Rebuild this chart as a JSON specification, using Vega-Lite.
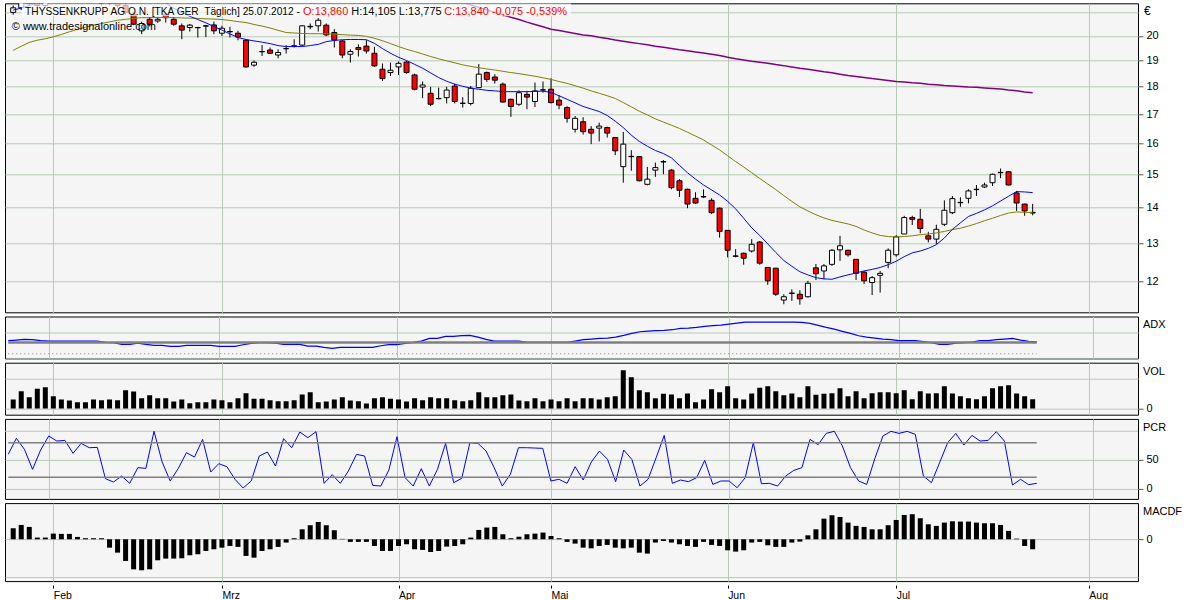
{
  "$schema": "https://vega.github.io/schema/vega-lite/v6.json",
  "background": "white",
  "padding": {"left": 2, "top": 2.3, "right": 0, "bottom": 0},
  "spacing": 4.2,
  "bounds": "flush",
  "datasets": {
    "d": [
      {"i":-5,"o":21.0,"h":21.3,"l":20.9,"c":21.2,"m1":21.10,"m2":19.41,"adx":23.4,"vol":3.02,"pcr":59.8,"macd":0.117},
      {"i":-4,"o":21.2,"h":21.6,"l":21.1,"c":21.5,"m1":21.19,"m2":19.57,"adx":24.6,"vol":5.81,"pcr":87.7,"macd":0.152},
      {"i":-3,"o":21.6,"h":21.7,"l":21.3,"c":21.4,"m1":21.30,"m2":19.73,"adx":25.8,"vol":3.79,"pcr":68.5,"macd":0.131},
      {"i":-2,"o":21.5,"h":21.7,"l":21.2,"c":21.3,"m1":21.43,"m2":19.82,"adx":25.2,"vol":6.61,"pcr":33.7,"macd":0.018},
      {"i":-1,"o":21.3,"h":21.8,"l":21.2,"c":21.6,"m1":21.55,"m2":19.88,"adx":23.4,"vol":7.15,"pcr":67.4,"macd":0.018},
      {"i":0,"o":21.6,"h":22.0,"l":21.5,"c":21.8,"m1":21.63,"m2":19.96,"adx":22.8,"vol":4.13,"pcr":91.8,"macd":0.060},
      {"i":1,"o":21.8,"h":21.9,"l":21.5,"c":21.6,"m1":21.68,"m2":20.06,"adx":22.8,"vol":3.02,"pcr":83.0,"macd":0.057},
      {"i":2,"o":21.6,"h":22.0,"l":21.5,"c":21.9,"m1":21.72,"m2":20.17,"adx":22.8,"vol":2.68,"pcr":84.2,"macd":0.057},
      {"i":3,"o":21.9,"h":22.1,"l":21.6,"c":21.7,"m1":21.77,"m2":20.27,"adx":22.8,"vol":2.11,"pcr":61.6,"macd":0.025},
      {"i":4,"o":21.7,"h":22.0,"l":21.6,"c":21.9,"m1":21.82,"m2":20.36,"adx":22.8,"vol":2.11,"pcr":79.0,"macd":0.011},
      {"i":5,"o":21.9,"h":22.0,"l":21.5,"c":21.6,"m1":21.87,"m2":20.45,"adx":22.8,"vol":3.02,"pcr":71.4,"macd":0.011},
      {"i":6,"o":21.6,"h":21.7,"l":21.3,"c":21.4,"m1":21.92,"m2":20.52,"adx":22.8,"vol":2.79,"pcr":72.0,"macd":0.011},
      {"i":7,"o":21.4,"h":21.7,"l":21.3,"c":21.6,"m1":21.94,"m2":20.59,"adx":20.4,"vol":3.02,"pcr":17.4,"macd":-0.089},
      {"i":8,"o":21.6,"h":21.7,"l":21.2,"c":21.3,"m1":21.89,"m2":20.66,"adx":19.8,"vol":2.79,"pcr":11.6,"macd":-0.142},
      {"i":9,"o":21.3,"h":21.4,"l":20.9,"c":21.0,"m1":21.84,"m2":20.70,"adx":16.8,"vol":6.14,"pcr":22.1,"macd":-0.230},
      {"i":10,"o":20.92,"h":21.0,"l":20.45,"c":20.49,"m1":21.79,"m2":20.74,"adx":16.8,"vol":5.70,"pcr":9.3,"macd":-0.319},
      {"i":11,"o":20.21,"h":20.6,"l":20.07,"c":20.52,"m1":21.74,"m2":20.77,"adx":19.2,"vol":3.46,"pcr":36.6,"macd":-0.329},
      {"i":12,"o":20.70,"h":20.8,"l":20.4,"c":20.49,"m1":21.68,"m2":20.77,"adx":16.8,"vol":4.46,"pcr":35.4,"macd":-0.319},
      {"i":13,"o":20.63,"h":20.8,"l":20.55,"c":20.70,"m1":21.62,"m2":20.78,"adx":15.0,"vol":3.46,"pcr":100,"macd":-0.223},
      {"i":14,"o":20.92,"h":21.0,"l":20.56,"c":20.77,"m1":21.42,"m2":20.78,"adx":15.0,"vol":3.46,"pcr":46.5,"macd":-0.205},
      {"i":15,"o":20.70,"h":20.8,"l":20.42,"c":20.49,"m1":21.18,"m2":20.77,"adx":13.2,"vol":2.35,"pcr":13.4,"macd":-0.205},
      {"i":16,"o":20.42,"h":20.52,"l":19.86,"c":20.24,"m1":20.99,"m2":20.76,"adx":13.2,"vol":3.02,"pcr":35.4,"macd":-0.202},
      {"i":17,"o":20.35,"h":20.5,"l":20.18,"c":20.45,"m1":20.83,"m2":20.75,"adx":15.0,"vol":1.78,"pcr":62.7,"macd":-0.170},
      {"i":18,"o":20.35,"h":20.38,"l":19.93,"c":20.34,"m1":20.69,"m2":20.74,"adx":15.0,"vol":2.11,"pcr":55.2,"macd":-0.159},
      {"i":19,"o":20.42,"h":20.46,"l":19.95,"c":20.41,"m1":20.55,"m2":20.72,"adx":15.0,"vol":2.11,"pcr":85.9,"macd":-0.124},
      {"i":20,"o":20.46,"h":20.60,"l":20.07,"c":20.21,"m1":20.39,"m2":20.71,"adx":15.0,"vol":3.02,"pcr":29.0,"macd":-0.106},
      {"i":21,"o":20.11,"h":20.42,"l":20.00,"c":20.32,"m1":20.24,"m2":20.69,"adx":13.2,"vol":2.79,"pcr":43.6,"macd":-0.089},
      {"i":22,"o":20.18,"h":20.38,"l":19.93,"c":20.17,"m1":20.08,"m2":20.65,"adx":13.2,"vol":2.11,"pcr":38.3,"macd":-0.071},
      {"i":23,"o":20.11,"h":20.21,"l":19.82,"c":19.95,"m1":19.93,"m2":20.60,"adx":13.2,"vol":3.46,"pcr":16.3,"macd":-0.081},
      {"i":24,"o":19.82,"h":19.85,"l":18.72,"c":18.75,"m1":19.85,"m2":20.56,"adx":16.2,"vol":5.13,"pcr":1.2,"macd":-0.177},
      {"i":25,"o":18.82,"h":19.01,"l":18.75,"c":18.93,"m1":19.79,"m2":20.48,"adx":18.6,"vol":3.26,"pcr":13.4,"macd":-0.195},
      {"i":26,"o":19.36,"h":19.62,"l":19.18,"c":19.35,"m1":19.74,"m2":20.41,"adx":19.8,"vol":3.26,"pcr":56.9,"macd":-0.124},
      {"i":27,"o":19.42,"h":19.52,"l":19.26,"c":19.29,"m1":19.68,"m2":20.33,"adx":19.8,"vol":2.79,"pcr":63.9,"macd":-0.106},
      {"i":28,"o":19.22,"h":19.45,"l":19.09,"c":19.32,"m1":19.60,"m2":20.23,"adx":19.2,"vol":2.45,"pcr":39.5,"macd":-0.081},
      {"i":29,"o":19.47,"h":19.62,"l":19.28,"c":19.48,"m1":19.56,"m2":20.14,"adx":16.8,"vol":2.45,"pcr":87.1,"macd":-0.035},
      {"i":30,"o":19.58,"h":19.86,"l":19.52,"c":19.59,"m1":19.56,"m2":20.12,"adx":16.8,"vol":2.79,"pcr":71.4,"macd":0.011},
      {"i":31,"o":19.62,"h":20.45,"l":19.58,"c":20.42,"m1":19.56,"m2":20.10,"adx":16.8,"vol":4.70,"pcr":98.7,"macd":0.106},
      {"i":32,"o":20.38,"h":20.52,"l":20.28,"c":20.40,"m1":19.60,"m2":20.09,"adx":13.8,"vol":5.47,"pcr":88.9,"macd":0.149},
      {"i":33,"o":20.42,"h":20.75,"l":20.18,"c":20.66,"m1":19.65,"m2":20.09,"adx":13.8,"vol":2.11,"pcr":99.3,"macd":0.184},
      {"i":34,"o":20.45,"h":20.52,"l":19.99,"c":20.04,"m1":19.76,"m2":20.08,"adx":11.4,"vol":2.35,"pcr":9.3,"macd":0.149},
      {"i":35,"o":20.14,"h":20.28,"l":19.52,"c":19.83,"m1":19.81,"m2":20.07,"adx":9.6,"vol":3.02,"pcr":24.4,"macd":0.096},
      {"i":36,"o":19.79,"h":19.82,"l":19.09,"c":19.22,"m1":19.84,"m2":20.05,"adx":11.4,"vol":3.79,"pcr":9.3,"macd":0.004},
      {"i":37,"o":19.25,"h":19.45,"l":18.92,"c":19.36,"m1":19.85,"m2":20.03,"adx":11.4,"vol":2.68,"pcr":30.8,"macd":-0.028},
      {"i":38,"o":19.52,"h":19.65,"l":19.16,"c":19.44,"m1":19.85,"m2":20.02,"adx":11.4,"vol":2.45,"pcr":59.8,"macd":-0.028},
      {"i":39,"o":19.58,"h":19.82,"l":19.28,"c":19.38,"m1":19.84,"m2":19.98,"adx":11.4,"vol":1.68,"pcr":56.9,"macd":-0.028},
      {"i":40,"o":19.29,"h":19.55,"l":18.75,"c":18.79,"m1":19.69,"m2":19.90,"adx":11.4,"vol":3.46,"pcr":5.8,"macd":-0.071},
      {"i":41,"o":18.66,"h":18.88,"l":18.21,"c":18.30,"m1":19.48,"m2":19.80,"adx":14.4,"vol":3.79,"pcr":4.6,"macd":-0.124},
      {"i":42,"o":18.53,"h":18.92,"l":18.40,"c":18.62,"m1":19.29,"m2":19.68,"adx":16.2,"vol":3.26,"pcr":32.5,"macd":-0.124},
      {"i":43,"o":18.75,"h":18.96,"l":18.44,"c":18.89,"m1":19.13,"m2":19.56,"adx":16.2,"vol":3.02,"pcr":90.6,"macd":-0.071},
      {"i":44,"o":18.94,"h":18.99,"l":18.49,"c":18.53,"m1":19.00,"m2":19.45,"adx":18.6,"vol":2.35,"pcr":19.2,"macd":-0.053},
      {"i":45,"o":18.44,"h":18.49,"l":17.86,"c":17.90,"m1":18.85,"m2":19.36,"adx":20.4,"vol":3.46,"pcr":4.6,"macd":-0.106},
      {"i":46,"o":17.98,"h":18.19,"l":17.57,"c":18.06,"m1":18.70,"m2":19.26,"adx":22.8,"vol":2.79,"pcr":34.8,"macd":-0.113},
      {"i":47,"o":17.75,"h":17.99,"l":17.28,"c":17.35,"m1":18.52,"m2":19.16,"adx":27.6,"vol":3.79,"pcr":4.6,"macd":-0.135},
      {"i":48,"o":17.55,"h":17.96,"l":17.53,"c":17.56,"m1":18.34,"m2":19.07,"adx":27.6,"vol":3.46,"pcr":33.7,"macd":-0.124},
      {"i":49,"o":17.59,"h":17.99,"l":17.38,"c":17.87,"m1":18.20,"m2":18.99,"adx":31.2,"vol":3.46,"pcr":79.0,"macd":-0.078},
      {"i":50,"o":18.02,"h":18.11,"l":17.38,"c":17.45,"m1":18.09,"m2":18.91,"m3":21.55,"adx":31.2,"vol":2.79,"pcr":10.5,"macd":-0.071},
      {"i":51,"o":17.38,"h":17.61,"l":17.23,"c":17.39,"m1":18.01,"m2":18.83,"m3":21.44,"adx":32.4,"vol":2.45,"pcr":18.0,"macd":-0.053},
      {"i":52,"o":17.38,"h":18.02,"l":17.31,"c":17.94,"m1":17.94,"m2":18.77,"m3":21.33,"adx":33.0,"vol":2.79,"pcr":80.1,"macd":0.018},
      {"i":53,"o":17.96,"h":18.86,"l":17.94,"c":18.47,"m1":17.90,"m2":18.72,"m3":21.22,"adx":30.0,"vol":5.47,"pcr":79.0,"macd":0.099},
      {"i":54,"o":18.53,"h":18.57,"l":18.18,"c":18.27,"m1":17.86,"m2":18.67,"m3":21.11,"adx":25.8,"vol":3.79,"pcr":65.6,"macd":0.124},
      {"i":55,"o":18.36,"h":18.47,"l":18.11,"c":18.24,"m1":17.84,"m2":18.63,"m3":21.00,"adx":22.8,"vol":3.79,"pcr":36.6,"macd":0.131},
      {"i":56,"o":18.09,"h":18.15,"l":17.41,"c":17.43,"m1":17.81,"m2":18.58,"m3":20.89,"adx":22.8,"vol":4.46,"pcr":4.6,"macd":0.053},
      {"i":57,"o":17.53,"h":17.55,"l":16.90,"c":17.27,"m1":17.81,"m2":18.53,"m3":20.79,"adx":22.8,"vol":4.70,"pcr":25.0,"macd":0.011},
      {"i":58,"o":17.35,"h":17.86,"l":17.29,"c":17.77,"m1":17.81,"m2":18.49,"m3":20.69,"adx":22.8,"vol":2.68,"pcr":71.4,"macd":0.028},
      {"i":59,"o":17.71,"h":17.84,"l":17.17,"c":17.61,"m1":17.81,"m2":18.44,"m3":20.58,"adx":21.0,"vol":2.45,"pcr":71.4,"macd":0.053},
      {"i":60,"o":17.45,"h":18.15,"l":17.25,"c":17.84,"m1":17.82,"m2":18.39,"m3":20.48,"adx":20.4,"vol":3.46,"pcr":70.8,"macd":0.060},
      {"i":61,"o":17.87,"h":18.19,"l":17.77,"c":17.88,"m1":17.83,"m2":18.33,"m3":20.38,"adx":20.4,"vol":2.45,"pcr":70.3,"macd":0.071},
      {"i":62,"o":17.90,"h":18.31,"l":17.38,"c":17.41,"m1":17.78,"m2":18.27,"m3":20.28,"adx":20.4,"vol":3.02,"pcr":13.4,"macd":0.035},
      {"i":63,"o":17.50,"h":17.68,"l":17.17,"c":17.32,"m1":17.66,"m2":18.19,"m3":20.22,"adx":20.4,"vol":2.45,"pcr":16.3,"macd":0.011},
      {"i":64,"o":17.23,"h":17.28,"l":16.70,"c":16.85,"m1":17.53,"m2":18.12,"m3":20.16,"adx":20.4,"vol":3.46,"pcr":9.3,"macd":-0.028},
      {"i":65,"o":16.47,"h":16.93,"l":16.36,"c":16.85,"m1":17.40,"m2":18.03,"m3":20.10,"adx":22.8,"vol":2.45,"pcr":38.3,"macd":-0.046},
      {"i":66,"o":16.73,"h":16.89,"l":16.29,"c":16.39,"m1":17.27,"m2":17.94,"m3":20.04,"adx":25.2,"vol":3.46,"pcr":15.1,"macd":-0.089},
      {"i":67,"o":16.47,"h":16.58,"l":15.97,"c":16.34,"m1":17.18,"m2":17.84,"m3":20.00,"adx":26.4,"vol":3.46,"pcr":46.5,"macd":-0.096},
      {"i":68,"o":16.51,"h":16.70,"l":16.06,"c":16.58,"m1":17.09,"m2":17.75,"m3":19.94,"adx":27.6,"vol":3.02,"pcr":65.6,"macd":-0.071},
      {"i":69,"o":16.53,"h":16.56,"l":16.19,"c":16.34,"m1":16.95,"m2":17.66,"m3":19.89,"adx":28.2,"vol":3.79,"pcr":51.1,"macd":-0.060},
      {"i":70,"o":16.19,"h":16.20,"l":15.61,"c":15.75,"m1":16.75,"m2":17.56,"m3":19.83,"adx":30.0,"vol":4.13,"pcr":12.2,"macd":-0.089},
      {"i":71,"o":15.24,"h":16.38,"l":14.74,"c":15.97,"m1":16.53,"m2":17.41,"m3":19.78,"adx":33.0,"vol":12.85,"pcr":67.4,"macd":-0.096},
      {"i":72,"o":15.57,"h":15.77,"l":15.11,"c":15.56,"m1":16.27,"m2":17.26,"m3":19.73,"adx":36.6,"vol":10.50,"pcr":51.1,"macd":-0.089},
      {"i":73,"o":15.56,"h":15.58,"l":14.78,"c":14.80,"m1":16.06,"m2":17.10,"m3":19.68,"adx":39.6,"vol":6.14,"pcr":4.6,"macd":-0.142},
      {"i":74,"o":14.69,"h":15.23,"l":14.66,"c":14.85,"m1":15.90,"m2":16.97,"m3":19.63,"adx":40.8,"vol":5.47,"pcr":16.3,"macd":-0.152},
      {"i":75,"o":15.13,"h":15.37,"l":14.92,"c":15.21,"m1":15.76,"m2":16.83,"m3":19.57,"adx":41.4,"vol":3.46,"pcr":54.0,"macd":-0.035},
      {"i":76,"o":15.39,"h":15.45,"l":15.00,"c":15.40,"m1":15.66,"m2":16.72,"m3":19.53,"adx":42.0,"vol":4.93,"pcr":92.9,"macd":-0.018},
      {"i":77,"o":15.13,"h":15.16,"l":14.54,"c":14.59,"m1":15.52,"m2":16.61,"m3":19.48,"adx":43.2,"vol":4.70,"pcr":9.3,"macd":-0.035},
      {"i":78,"o":14.80,"h":14.85,"l":14.31,"c":14.51,"m1":15.28,"m2":16.50,"m3":19.43,"adx":45.6,"vol":3.46,"pcr":15.1,"macd":-0.053},
      {"i":79,"o":14.54,"h":14.56,"l":13.98,"c":14.10,"m1":15.05,"m2":16.37,"m3":19.39,"adx":46.2,"vol":5.03,"pcr":12.2,"macd":-0.071},
      {"i":80,"o":14.27,"h":14.45,"l":14.11,"c":14.13,"m1":14.85,"m2":16.24,"m3":19.34,"adx":47.4,"vol":2.11,"pcr":19.2,"macd":-0.081},
      {"i":81,"o":14.32,"h":14.54,"l":14.28,"c":14.31,"m1":14.67,"m2":16.11,"m3":19.30,"adx":49.2,"vol":3.02,"pcr":49.4,"macd":-0.028},
      {"i":82,"o":14.21,"h":14.27,"l":13.81,"c":13.85,"m1":14.52,"m2":15.94,"m3":19.25,"adx":50.4,"vol":6.48,"pcr":7.5,"macd":-0.060},
      {"i":83,"o":13.98,"h":14.00,"l":13.15,"c":13.32,"m1":14.37,"m2":15.78,"m3":19.20,"adx":51.6,"vol":5.47,"pcr":13.4,"macd":-0.071},
      {"i":84,"o":13.35,"h":13.36,"l":12.62,"c":12.81,"m1":14.18,"m2":15.59,"m3":19.13,"adx":53.4,"vol":7.48,"pcr":13.4,"macd":-0.117},
      {"i":85,"o":12.66,"h":12.84,"l":12.62,"c":12.65,"m1":13.96,"m2":15.40,"m3":19.07,"adx":55.2,"vol":3.46,"pcr":1.7,"macd":-0.131},
      {"i":86,"o":12.73,"h":12.75,"l":12.43,"c":12.60,"m1":13.69,"m2":15.23,"m3":19.02,"adx":57.0,"vol":3.02,"pcr":19.2,"macd":-0.117},
      {"i":87,"o":12.79,"h":13.11,"l":12.75,"c":12.97,"m1":13.42,"m2":15.05,"m3":18.97,"adx":57.0,"vol":5.03,"pcr":80.1,"macd":-0.035},
      {"i":88,"o":13.03,"h":13.06,"l":12.43,"c":12.47,"m1":13.21,"m2":14.87,"m3":18.93,"adx":57.0,"vol":6.95,"pcr":8.7,"macd":-0.028},
      {"i":89,"o":12.36,"h":12.37,"l":11.92,"c":12.02,"m1":12.98,"m2":14.70,"m3":18.89,"adx":57.0,"vol":7.48,"pcr":9.3,"macd":-0.064},
      {"i":90,"o":12.34,"h":12.35,"l":11.65,"c":11.69,"m1":12.75,"m2":14.53,"m3":18.84,"adx":57.0,"vol":5.81,"pcr":4.6,"macd":-0.081},
      {"i":91,"o":11.55,"h":11.69,"l":11.45,"c":11.63,"m1":12.54,"m2":14.35,"m3":18.80,"adx":57.0,"vol":4.46,"pcr":22.1,"macd":-0.081},
      {"i":92,"o":11.72,"h":11.81,"l":11.53,"c":11.71,"m1":12.39,"m2":14.18,"m3":18.75,"adx":57.0,"vol":5.03,"pcr":31.9,"macd":-0.035},
      {"i":93,"o":11.69,"h":11.79,"l":11.44,"c":11.58,"m1":12.25,"m2":14.02,"m3":18.70,"adx":56.4,"vol":3.79,"pcr":36.6,"macd":-0.025},
      {"i":94,"o":11.63,"h":12.02,"l":11.61,"c":11.96,"m1":12.17,"m2":13.90,"m3":18.66,"adx":54.6,"vol":7.48,"pcr":85.9,"macd":0.042},
      {"i":95,"o":12.35,"h":12.45,"l":12.04,"c":12.20,"m1":12.10,"m2":13.79,"m3":18.61,"adx":51.0,"vol":4.60,"pcr":76.7,"macd":0.106},
      {"i":96,"o":12.27,"h":12.45,"l":12.06,"c":12.40,"m1":12.07,"m2":13.70,"m3":18.56,"adx":47.4,"vol":4.93,"pcr":96.4,"macd":0.219},
      {"i":97,"o":12.44,"h":12.84,"l":12.40,"c":12.81,"m1":12.06,"m2":13.63,"m3":18.52,"adx":44.4,"vol":5.13,"pcr":100,"macd":0.255},
      {"i":98,"o":12.82,"h":13.20,"l":12.53,"c":12.93,"m1":12.12,"m2":13.58,"m3":18.47,"adx":40.2,"vol":6.81,"pcr":74.3,"macd":0.237},
      {"i":99,"o":12.81,"h":12.82,"l":12.64,"c":12.69,"m1":12.17,"m2":13.53,"m3":18.42,"adx":36.6,"vol":4.13,"pcr":36.6,"macd":0.177},
      {"i":100,"o":12.57,"h":12.58,"l":12.04,"c":12.21,"m1":12.22,"m2":13.46,"m3":18.38,"adx":32.4,"vol":5.81,"pcr":13.4,"macd":0.142},
      {"i":101,"o":12.24,"h":12.27,"l":11.94,"c":12.02,"m1":12.27,"m2":13.36,"m3":18.34,"adx":30.0,"vol":3.46,"pcr":7.5,"macd":0.131},
      {"i":102,"o":11.98,"h":12.14,"l":11.67,"c":12.10,"m1":12.31,"m2":13.28,"m3":18.30,"adx":28.2,"vol":5.13,"pcr":52.3,"macd":0.106},
      {"i":103,"o":12.16,"h":12.27,"l":11.73,"c":12.21,"m1":12.36,"m2":13.21,"m3":18.27,"adx":26.4,"vol":5.47,"pcr":91.8,"macd":0.106},
      {"i":104,"o":12.49,"h":12.86,"l":12.34,"c":12.81,"m1":12.43,"m2":13.18,"m3":18.23,"adx":25.2,"vol":5.47,"pcr":99.9,"macd":0.149},
      {"i":105,"o":12.69,"h":13.22,"l":12.64,"c":13.17,"m1":12.52,"m2":13.17,"m3":18.19,"adx":23.4,"vol":5.13,"pcr":96.4,"macd":0.205},
      {"i":106,"o":13.25,"h":13.76,"l":13.25,"c":13.71,"m1":12.64,"m2":13.18,"m3":18.17,"adx":23.4,"vol":6.14,"pcr":99.9,"macd":0.258},
      {"i":107,"o":13.71,"h":13.76,"l":13.50,"c":13.66,"m1":12.74,"m2":13.20,"m3":18.14,"adx":23.4,"vol":3.12,"pcr":94.7,"macd":0.266},
      {"i":108,"o":13.66,"h":13.96,"l":13.27,"c":13.40,"m1":12.79,"m2":13.23,"m3":18.12,"adx":21.6,"vol":5.81,"pcr":22.1,"macd":0.223},
      {"i":109,"o":13.20,"h":13.31,"l":13.02,"c":13.11,"m1":12.86,"m2":13.25,"m3":18.09,"adx":19.8,"vol":5.03,"pcr":10.5,"macd":0.159},
      {"i":110,"o":13.11,"h":13.51,"l":12.98,"c":13.38,"m1":12.96,"m2":13.28,"m3":18.07,"adx":16.8,"vol":5.13,"pcr":45.3,"macd":0.142},
      {"i":111,"o":13.52,"h":14.21,"l":13.47,"c":13.92,"m1":13.14,"m2":13.32,"m3":18.04,"adx":16.8,"vol":7.48,"pcr":80.1,"macd":0.177},
      {"i":112,"o":13.85,"h":14.34,"l":13.81,"c":14.26,"m1":13.38,"m2":13.37,"m3":18.02,"adx":19.2,"vol":5.03,"pcr":96.4,"macd":0.191},
      {"i":113,"o":14.14,"h":14.30,"l":14.02,"c":14.15,"m1":13.56,"m2":13.41,"m3":18.00,"adx":19.8,"vol":4.13,"pcr":76.1,"macd":0.188},
      {"i":114,"o":14.27,"h":14.54,"l":14.12,"c":14.49,"m1":13.74,"m2":13.47,"m3":17.98,"adx":21.0,"vol":3.46,"pcr":92.9,"macd":0.188},
      {"i":115,"o":14.53,"h":14.67,"l":14.34,"c":14.54,"m1":13.83,"m2":13.54,"m3":17.97,"adx":23.4,"vol":3.12,"pcr":83.0,"macd":0.177},
      {"i":116,"o":14.61,"h":14.74,"l":14.58,"c":14.67,"m1":13.93,"m2":13.62,"m3":17.95,"adx":23.4,"vol":4.13,"pcr":84.2,"macd":0.170},
      {"i":117,"o":14.74,"h":15.02,"l":14.64,"c":15.00,"m1":14.05,"m2":13.69,"m3":17.93,"adx":25.2,"vol":6.81,"pcr":99.3,"macd":0.170},
      {"i":118,"o":15.05,"h":15.18,"l":14.88,"c":15.06,"m1":14.19,"m2":13.77,"m3":17.91,"adx":26.4,"vol":7.48,"pcr":83.0,"macd":0.152},
      {"i":119,"o":15.08,"h":15.10,"l":14.66,"c":14.67,"m1":14.33,"m2":13.84,"m3":17.87,"adx":27.6,"vol":7.82,"pcr":6.4,"macd":0.089},
      {"i":120,"o":14.43,"h":14.49,"l":13.90,"c":14.13,"m1":14.47,"m2":13.87,"m3":17.84,"adx":24.6,"vol":5.03,"pcr":16.3,"macd":0.007},
      {"i":121,"o":14.10,"h":14.11,"l":13.76,"c":13.90,"m1":14.46,"m2":13.86,"m3":17.80,"adx":22.2,"vol":4.13,"pcr":7.0,"macd":-0.071},
      {"i":122,"o":13.86,"h":14.105,"l":13.775,"c":13.84,"m1":14.44,"m2":13.85,"m3":17.77,"adx":21.0,"vol":3.12,"pcr":9.3,"macd":-0.106}
    ]
  },
  "data": {"name": "d"},
  "config": {
    "view": {"fill": "#f5f5f5", "stroke": "#000000", "strokeWidth": 1},
    "font": "Liberation Sans",
    "axis": {
      "labelFont": "Liberation Sans", "labelFontSize": 11, "labelColor": "#000000",
      "labelFlush": false, "labelOverlap": false,
      "gridColor": "#b6cab6", "gridWidth": 1, "gridOpacity": 1,
      "tickColor": "#555555", "tickSize": 5, "labelPadding": 3, "domain": false,
      "titleFont": "Liberation Sans", "titleFontSize": 11, "titleFontWeight": "normal", "titleColor": "#000000"
    }
  },
  "vconcat": [
    {
      "width": 1133,
      "height": 309,
      "layer": [
        {
          "mark": {"type": "rule", "color": "#000000", "strokeWidth": 1, "clip": true},
          "encoding": {
            "x": {"field": "i", "type": "quantitative", "scale": {"domain": [-5.4, 134.5], "nice": false, "zero": false},
                  "axis": {"values": [0, 21, 43, 62, 84, 105, 129], "labels": false, "ticks": false, "title": null, "grid": true}},
            "y": {"field": "l", "type": "quantitative",
                  "scale": {"type": "log", "domain": [11.26, 21.4], "nice": false},
                  "axis": {"orient": "right", "values": [12, 13, 14, 15, 16, 17, 18, 19, 20, 21],
                           "labelExpr": "datum.value == 21 ? '' : datum.label", "labelOverlap": false,
                           "tickOpacity": {"condition": {"test": "datum.value == 21", "value": 0}, "value": 1},
                           "grid": true, "title": "€", "titleAngle": 0, "titleAlign": "left", "titleBaseline": "middle",
                           "titleX": 5.5, "titleY": 7, "titleFontSize": 12}},
            "y2": {"field": "h"}
          }
        },
        {
          "mark": {"type": "bar", "width": 5, "stroke": "#000000", "strokeWidth": 1, "clip": true},
          "encoding": {
            "x": {"field": "i", "type": "quantitative"},
            "y": {"field": "o", "type": "quantitative"},
            "y2": {"field": "c"},
            "fill": {"condition": {"test": "datum.c < datum.o", "value": "#ff0000"}, "value": "#ffffff"}
          }
        },
        {
          "mark": {"type": "line", "color": "#800080", "strokeWidth": 1.5, "clip": true},
          "encoding": {"x": {"field": "i", "type": "quantitative"}, "y": {"field": "m3", "type": "quantitative"}}
        },
        {
          "mark": {"type": "line", "color": "#808000", "strokeWidth": 1, "clip": true},
          "encoding": {"x": {"field": "i", "type": "quantitative"}, "y": {"field": "m2", "type": "quantitative"}}
        },
        {
          "mark": {"type": "line", "color": "#0000ff", "strokeWidth": 1, "clip": true},
          "encoding": {"x": {"field": "i", "type": "quantitative"}, "y": {"field": "m1", "type": "quantitative"}}
        },
        {
          "data": {"values": [{"k": 1}]},
          "mark": {"type": "rect", "fill": "#ffffff", "opacity": 0.7, "clip": true},
          "encoding": {"x": {"datum": -3.92}, "x2": {"datum": 64.5}, "y": {"datum": 21.4}, "y2": {"datum": 20.83}}
        },
        {
          "data": {"values": [{"k": 1}]},
          "mark": {"type": "text", "text": "THYSSENKRUPP AG O.N. [TKA GER\u00a0 Täglich] 25.07.2012 -", "align": "left", "baseline": "alphabetic", "font": "Liberation Sans", "fontSize": 10.2, "color": "#000000"},
          "encoding": {"x": {"datum": -3.52}, "y": {"datum": 20.89}}
        },
        {
          "data": {"values": [{"k": 1}]},
          "mark": {"type": "text", "text": "O:13,860", "align": "left", "baseline": "alphabetic", "font": "Liberation Sans", "fontSize": 11, "color": "#ff0000"},
          "encoding": {"x": {"datum": 31.11}, "y": {"datum": 20.89}}
        },
        {
          "data": {"values": [{"k": 1}]},
          "mark": {"type": "text", "text": "H:14,105 L:13,775", "align": "left", "baseline": "alphabetic", "font": "Liberation Sans", "fontSize": 11, "color": "#000000"},
          "encoding": {"x": {"datum": 37.11}, "y": {"datum": 20.89}}
        },
        {
          "data": {"values": [{"k": 1}]},
          "mark": {"type": "text", "text": "C:13,840 -0,075 -0,539%", "align": "left", "baseline": "alphabetic", "font": "Liberation Sans", "fontSize": 11, "color": "#ff0000"},
          "encoding": {"x": {"datum": 48.7}, "y": {"datum": 20.89}}
        },
        {
          "data": {"values": [{"k": 1}]},
          "mark": {"type": "text", "text": "© www.tradesignalonline.com", "align": "left", "baseline": "alphabetic", "font": "Liberation Sans", "fontSize": 11, "color": "#000000"},
          "encoding": {"x": {"datum": -5.18}, "y": {"datum": 20.23}}
        }
      ]
    },
    {
      "width": 1133,
      "height": 42,
      "encoding": {
        "x": {"field": "i", "type": "quantitative", "scale": {"domain": [-5.4, 134.5], "nice": false, "zero": false},
              "axis": {"values": [0, 21, 43, 62, 84, 105, 129], "labels": false, "ticks": false, "title": null, "grid": true}}
      },
      "layer": [
        {
          "mark": {"type": "line", "color": "#0000ff", "strokeWidth": 1.2, "clip": true},
          "encoding": {
            "y": {"field": "adx", "type": "quantitative", "scale": {"domain": [-8.6, 67], "nice": false, "zero": false},
                  "axis": {"orient": "right", "values": [-8.4, 38.4], "labels": false, "ticks": false, "grid": true,
                           "title": "ADX", "titleAngle": 0, "titleAlign": "left", "titleBaseline": "middle", "titleX": 4.5, "titleY": 8}}
          }
        },
        {
          "mark": {"type": "line", "color": "#808080", "strokeWidth": 2.5},
          "encoding": {"y": {"datum": 20}}
        },
        {
          "mark": {"type": "line", "color": "#808080", "strokeWidth": 1, "strokeDash": [1, 3]},
          "encoding": {"y": {"datum": 0}}
        }
      ]
    },
    {
      "width": 1133,
      "height": 52,
      "mark": {"type": "bar", "width": 5, "color": "#000000", "clip": true},
      "encoding": {
        "x": {"field": "i", "type": "quantitative", "scale": {"domain": [-5.4, 134.5], "nice": false, "zero": false},
              "axis": {"values": [0, 21, 43, 62, 84, 105, 129], "labels": false, "ticks": false, "title": null, "grid": true}},
        "y": {"field": "vol", "type": "quantitative", "scale": {"domain": [-2.1, 15.35], "nice": false, "zero": false},
              "axis": {"orient": "right", "values": [0, 10],
                       "labelExpr": "datum.value == 0 ? '0' : ''", "labelOverlap": false,
                       "tickOpacity": {"condition": {"test": "datum.value == 0", "value": 1}, "value": 0},
                       "grid": true, "title": "VOL", "titleAngle": 0, "titleAlign": "left", "titleBaseline": "middle", "titleX": 4.5, "titleY": 8.5}},
        "y2": {"datum": 0}
      }
    },
    {
      "width": 1133,
      "height": 80,
      "layer": [
        {
          "data": {"values": [{"k": 1}]},
          "mark": {"type": "rule", "color": "#b6cab6", "strokeWidth": 1},
          "encoding": {"y": {"datum": 100}}
        },
        {
          "mark": {"type": "line", "color": "#0000ff", "strokeWidth": 1, "clip": true},
          "encoding": {
            "x": {"field": "i", "type": "quantitative", "scale": {"domain": [-5.4, 134.5], "nice": false, "zero": false},
                  "axis": {"values": [0, 21, 43, 62, 84, 105, 129], "labels": false, "ticks": false, "title": null, "grid": true}},
            "y": {"field": "pcr", "type": "quantitative", "scale": {"domain": [-17.8, 121.6], "nice": false, "zero": false},
                  "axis": {"orient": "right", "values": [0, 50], "labelOverlap": false,
                           "grid": true, "title": "PCR", "titleAngle": 0, "titleAlign": "left", "titleBaseline": "middle", "titleX": 4.5, "titleY": 8.5}}
          }
        },
        {
          "mark": {"type": "line", "color": "#808080", "strokeWidth": 1.5},
          "encoding": {"x": {"field": "i", "type": "quantitative"}, "y": {"datum": 80}}
        },
        {
          "mark": {"type": "line", "color": "#808080", "strokeWidth": 1.5},
          "encoding": {"x": {"field": "i", "type": "quantitative"}, "y": {"datum": 20}}
        }
      ]
    },
    {
      "width": 1133,
      "height": 78,
      "mark": {"type": "bar", "width": 5, "color": "#000000", "clip": true},
      "encoding": {
        "x": {"field": "i", "type": "quantitative", "scale": {"domain": [-5.4, 134.5], "nice": false, "zero": false},
              "axis": {"values": [0, 21, 43, 62, 84, 105, 129],
                       "labelExpr": "datum.value == 0 ? 'Feb' : datum.value == 21 ? 'Mrz' : datum.value == 43 ? 'Apr' : datum.value == 62 ? 'Mai' : datum.value == 84 ? 'Jun' : datum.value == 105 ? 'Jul' : 'Aug'",
                       "labelAlign": "left", "labelBaseline": "alphabetic", "labelPadding": 10, "tickSize": 3, "offset": 4,
                       "labelFontSize": 10.5, "labelOverlap": false, "tickColor": "#000000", "title": null, "grid": true}},
        "y": {"field": "macd", "type": "quantitative", "scale": {"domain": [-0.444, 0.384], "nice": false, "zero": false},
              "axis": {"orient": "right", "values": [-0.4, 0],
                       "labelExpr": "datum.value == 0 ? '0' : ''", "labelOverlap": false,
                       "tickOpacity": {"condition": {"test": "datum.value == 0", "value": 1}, "value": 0},
                       "grid": true, "title": "MACDF", "titleAngle": 0, "titleAlign": "left", "titleBaseline": "middle", "titleX": 4.5, "titleY": 8.5}},
        "y2": {"datum": 0}
      }
    }
  ]
}
